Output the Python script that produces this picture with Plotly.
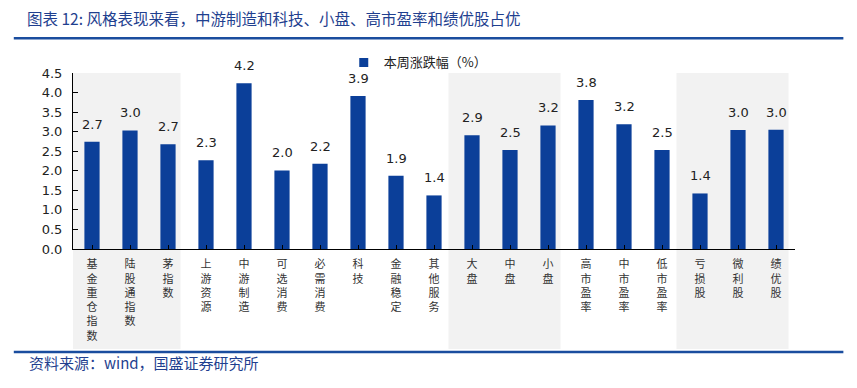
import plotly.graph_objects as go

categories = ["基金重仓指数", "陆股通指数", "茅指数", "上游资源", "中游制造", "可选消费", "必需消费",
              "科技", "金融稳定", "其他服务", "大盘", "中盘", "小盘", "高市盈率", "中市盈率",
              "低市盈率", "亏损股", "微利股", "绩优股"]
values = [2.74, 3.03, 2.68, 2.27, 4.24, 2.01, 2.18, 3.91, 1.87, 1.37, 2.91, 2.53, 3.16, 3.81,
          3.19, 2.53, 1.42, 3.04, 3.05]
series_name = "本周涨跌幅（%）"
shaded_groups = [(0, 2), (10, 12), (16, 18)]
y_ticks = [0, 0.5, 1.0, 1.5, 2.0, 2.5, 3.0, 3.5, 4.0, 4.5]

title_text = "图表 12: 风格表现来看，中游制造和科技、小盘、高市盈率和绩优股占优"
source_text = "资料来源：wind，国盛证券研究所"

BAR = "#0B3F99"
NAVY = "#1F3F8F"
LINE = "#1A4D9E"

x_idx = list(range(len(categories)))
fig = go.Figure()
fig.add_trace(go.Bar(x=x_idx, y=values, marker=dict(color=BAR, line=dict(width=0)),
                     width=0.4, showlegend=False, hoverinfo="y"))
fig.add_trace(go.Scatter(x=[None], y=[None], mode="markers", name=series_name,
                         marker=dict(symbol="square", size=9, color=BAR)))

shapes = []
for a, b in shaded_groups:
    shapes.append(dict(type="rect", xref="x", yref="paper", x0=a - 0.62, x1=b + 0.33,
                       y0=-0.568, y1=1.0, fillcolor="#F2F2F2", line=dict(width=0), layer="below"))
shapes.append(dict(type="line", xref="paper", yref="paper", x0=-0.082, x1=1.067, y0=1.197, y1=1.197,
                   line=dict(color=LINE, width=2.5)))
shapes.append(dict(type="line", xref="paper", yref="paper", x0=-0.082, x1=1.067, y0=-0.585, y1=-0.585,
                   line=dict(color=LINE, width=2.5)))

annotations = []
for i, v in enumerate(values):
    annotations.append(dict(x=i, y=v, xref="x", yref="y", text=f"{v:.1f}", showarrow=False,
                            yanchor="bottom", yshift=8,
                            font=dict(family="DejaVu Sans", size=13, color="#222222")))
annotations.append(dict(x=-0.066, y=1.313, xref="paper", yref="paper", text=title_text, showarrow=False,
                        xanchor="left", yanchor="middle",
                        font=dict(family="Noto Sans CJK SC", size=15.5, color=NAVY)))
annotations.append(dict(x=-0.064, y=-0.643, xref="paper", yref="paper", text=source_text, showarrow=False,
                        xanchor="left", yanchor="middle",
                        font=dict(family="Noto Sans CJK SC", size=15, color=NAVY)))

# page body adds an 8px offset; compensate so the plot area lands where the reference has it
fig.update_layout(
    width=849, height=380,
    margin=dict(l=65, r=62, t=65, b=139),
    paper_bgcolor="white", plot_bgcolor="rgba(0,0,0,0)",
    shapes=shapes, annotations=annotations,
    legend=dict(x=0.375, y=1.06, xanchor="left", yanchor="middle", orientation="h",
                font=dict(family="Noto Sans CJK SC", size=13, color="#222222"),
                bgcolor="rgba(0,0,0,0)"),
    font=dict(family="DejaVu Sans", size=13, color="#222222"),
)
fig.update_xaxes(
    tickmode="array", tickvals=x_idx,
    ticktext=["<br>".join(list(c)) for c in categories],
    range=[-0.5, len(categories) - 0.5],
    showline=True, linecolor="black", linewidth=1,
    ticks="inside", ticklen=4, tickcolor="black", tickson="boundaries",
    tickfont=dict(family="Noto Sans CJK SC", size=11, color="#333333"),
    showgrid=False, zeroline=False, ticklabelstandoff=5,
)
fig.update_yaxes(
    range=[0, 4.5], tickmode="array", tickvals=y_ticks, ticktext=[f"{t:.1f}" for t in y_ticks],
    showline=True, linecolor="black", linewidth=1,
    ticks="inside", ticklen=5, tickcolor="black",
    tickfont=dict(family="DejaVu Sans", size=13, color="#222222"),
    showgrid=False, zeroline=False, ticklabelstandoff=7,
)
fig.write_html("out.html")
